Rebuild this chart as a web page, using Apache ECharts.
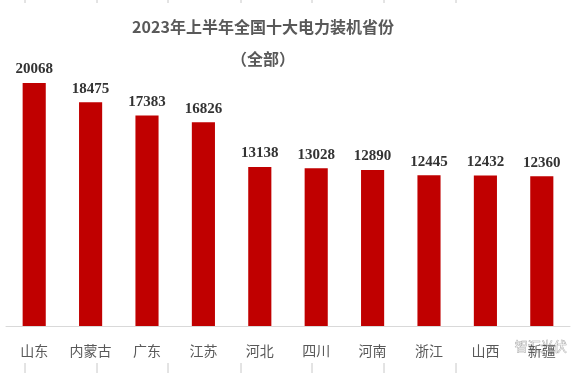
<!DOCTYPE html>
<html><head><meta charset="utf-8">
<script src="https://cdn.jsdelivr.net/npm/echarts@6/dist/echarts.min.js"></script>
<style>html,body{margin:0;padding:0;background:#fff}#c{width:581px;height:373px}</style>
</head><body><div id="c"></div>
<script>
const categories = ['山东','内蒙古','广东','江苏','河北','四川','河南','浙江','山西','新疆'];
const values = [20068,18475,17383,16826,13138,13028,12890,12445,12432,12360];
const titleText = '2023年上半年全国十大电力装机省份';
const subtitleText = '（全部）';

const chart = echarts.init(document.getElementById('c'), null, {renderer:'canvas'});
const frameLines = [];
[25,97,168,241,312,384,456].forEach(x=>{
  frameLines.push({type:'line',shape:{x1:x,y1:0,x2:x,y2:3},style:{stroke:'#c8c8c8',lineWidth:1}});
  frameLines.push({type:'line',shape:{x1:x,y1:363,x2:x,y2:373},style:{stroke:'#c8c8c8',lineWidth:1}});
});
chart.setOption({
  animation:false,
  backgroundColor:'#fff',
  title:[
    {text:titleText,left:258,textAlign:'center',top:14,textStyle:{fontFamily:'Noto Sans CJK SC',fontWeight:'bold',fontSize:16,color:'#595959'}},
    {text:subtitleText,left:258,textAlign:'center',top:46,textStyle:{fontFamily:'Noto Sans CJK SC',fontWeight:'bold',fontSize:16,color:'#595959'}}
  ],
  grid:{left:6,right:11,top:83,bottom:47,containLabel:false},
  xAxis:{type:'category',data:categories,
    axisLine:{lineStyle:{color:'#d9d9d9'}},axisTick:{show:false},
    axisLabel:{color:'#595959',fontSize:14,fontFamily:'Noto Sans CJK SC',margin:18}},
  yAxis:{type:'value',min:0,max:20068,show:false,splitLine:{show:false}},
  series:[{type:'bar',data:values,barWidth:'41%',
    itemStyle:{color:'#c00000'},
    label:{show:true,position:'top',distance:6,fontFamily:'Liberation Serif',fontWeight:'bold',fontSize:15,color:'#333'}}],
  graphic:frameLines.concat([{type:'text',right:14,top:339,style:{text:'智汇光伏',fontFamily:'Noto Sans CJK SC',fontSize:13,fill:'rgba(255,255,255,0.6)',stroke:'#9a9a9a',lineWidth:0.6}}])
});
</script></body></html>
